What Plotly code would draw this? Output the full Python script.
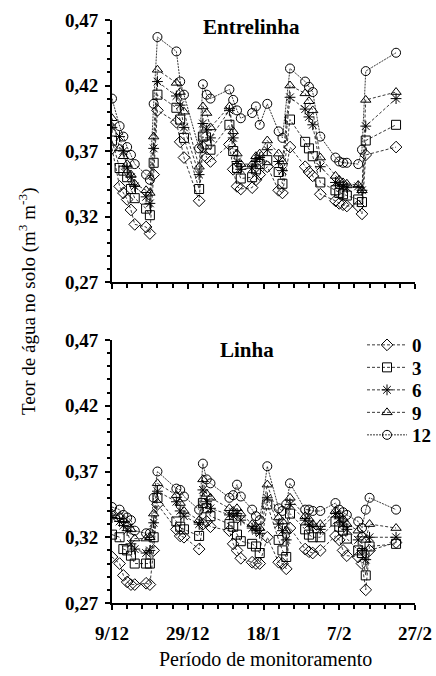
import plotly.graph_objects as go

SERIES = ["0", "3", "6", "9", "12"]
SYMBOLS = ["diamond-open", "square-open", "asterisk-open", "triangle-up-open", "circle-open"]
DASHES = ["3px,2px", "3px,2px", "3px,2px", "3px,2px", "2px,1px"]

TICK_DAYS = [0, 20, 40, 60, 80]
TICK_LABELS = ["9/12", "29/12", "18/1", "7/2", "27/2"]

# Entrelinha (top panel) -- days since 9/12
TOP_DAYS = [0, 2, 3, 4, 5, 6, 9, 10, 11, 12, 17, 18, 19, 23, 24, 25, 26, 31, 32, 33,
            34, 37, 38, 39, 41, 44, 45, 47, 51, 52, 53, 55, 59, 60, 61, 62, 65, 66, 67, 75]
TOP_0 = [.372, .343, .338, .333, .325, .314, .312, .307, .352, .401, .392, .377, .365, .332, .373, .365, .362, .375, .356, .343,
         .341, .342, .348, .352, .358, .340, .338, .373, .358, .354, .351, .337, .332, .330, .329, .328, .328, .322, .367, .373]
TOP_3 = [.378, .357, .355, .350, .341, .334, .326, .321, .361, .413, .403, .394, .380, .341, .381, .375, .371, .390, .370, .357,
         .349, .350, .356, .360, .363, .354, .345, .394, .377, .372, .366, .346, .340, .338, .337, .336, .333, .331, .378, .390]
TOP_6 = [.388, .381, .370, .357, .350, .343, .335, .330, .372, .423, .412, .405, .388, .352, .391, .386, .380, .401, .380, .362,
         .356, .357, .362, .365, .371, .362, .355, .411, .402, .396, .390, .358, .346, .344, .343, .342, .343, .340, .389, .410]
TOP_9 = [.395, .372, .366, .360, .352, .345, .340, .338, .381, .432, .422, .415, .400, .358, .404, .399, .388, .404, .385, .368,
         .360, .360, .366, .368, .378, .368, .362, .420, .414, .408, .401, .365, .351, .348, .346, .345, .344, .340, .409, .415]
TOP_12 = [.410, .389, .381, .373, .367, .360, .352, .348, .406, .457, .446, .423, .413, .372, .421, .413, .410, .417, .409, .401,
          .395, .399, .404, .390, .406, .385, .380, .433, .423, .419, .415, .381, .365, .362, .361, .361, .360, .371, .431, .445]

# Linha (bottom panel)
BOT_DAYS = [0, 2, 3, 4, 5, 6, 9, 10, 11, 12, 17, 18, 19, 23, 24, 25, 26, 31, 32, 33, 34,
            37, 38, 39, 41, 44, 45, 46, 47, 51, 52, 53, 55, 59, 60, 61, 62, 65, 66, 67, 68, 75]
BOT_0 = [.305, .300, .291, .286, .284, .284, .285, .284, .310, .345, .326, .321, .320, .311, .330, .332, .328, .325, .315, .310, .304,
         .301, .300, .300, .320, .301, .300, .296, .327, .311, .309, .308, .310, .321, .318, .310, .306, .305, .300, .280, .310, .316]
BOT_3 = [.322, .320, .311, .310, .306, .300, .300, .300, .320, .350, .332, .328, .326, .321, .346, .342, .336, .330, .328, .322, .317,
         .315, .313, .308, .345, .318, .310, .305, .338, .326, .322, .320, .320, .332, .328, .325, .319, .310, .308, .291, .313, .315]
BOT_6 = [.335, .332, .329, .325, .315, .311, .308, .310, .331, .355, .347, .340, .336, .330, .356, .347, .342, .337, .336, .338, .333,
         .327, .325, .323, .350, .330, .325, .318, .345, .333, .330, .328, .326, .338, .334, .330, .326, .318, .310, .303, .320, .320]
BOT_9 = [.338, .336, .333, .330, .326, .319, .319, .320, .338, .361, .352, .346, .340, .333, .364, .353, .350, .342, .340, .342, .338,
         .330, .328, .327, .360, .335, .332, .325, .350, .336, .334, .330, .330, .340, .337, .334, .330, .325, .322, .318, .330, .327]
BOT_12 = [.343, .341, .337, .335, .333, .325, .323, .323, .350, .370, .357, .356, .351, .341, .376, .364, .361, .350, .352, .360, .351,
          .341, .336, .333, .374, .342, .340, .345, .361, .341, .341, .340, .340, .346, .341, .339, .337, .332, .327, .341, .350, .341]

TOP = [TOP_0, TOP_3, TOP_6, TOP_9, TOP_12]
BOT = [BOT_0, BOT_3, BOT_6, BOT_9, BOT_12]

FONT = "Liberation Serif"

W, H = 436, 676
L, R, T, B = 112, 21, 20, 73
PW, PH = W - L - R, H - T - B


def px(ref_x):
    return (ref_x - L) / PW


def py(ref_y):
    return (H - B - ref_y) / PH


fig = go.Figure()
legend_names = ["legend", "legend2", "legend3", "legend4", "legend5"]

for i, name in enumerate(SERIES):
    common = dict(
        mode="lines+markers",
        name=name,
        line=dict(color="#222222", width=0.9, dash=DASHES[i]),
        marker=dict(symbol=SYMBOLS[i], size=9, color="black", line=dict(width=1, color="black")),
    )
    fig.add_trace(go.Scatter(x=TOP_DAYS, y=TOP[i], xaxis="x", yaxis="y", showlegend=False, **common))
    fig.add_trace(go.Scatter(x=BOT_DAYS, y=BOT[i], xaxis="x2", yaxis="y2", showlegend=True,
                             legend=legend_names[i], **common))

TICKFONT = dict(family=FONT, size=19, color="black", weight="bold")

xcommon = dict(
    range=[0, 80], showgrid=False, zeroline=False, showline=True, linecolor="black", linewidth=2,
    ticks="outside", ticklen=5, tickwidth=1.5, tickcolor="black",
    tickvals=TICK_DAYS, ticktext=TICK_LABELS,
    minor=dict(dtick=4, tick0=0, ticks="outside", ticklen=4, tickwidth=1.5, tickcolor="black"),
    tickfont=TICKFONT,
)
ycommon = dict(
    range=[0.27, 0.47], showgrid=False, zeroline=False, showline=True, linecolor="black", linewidth=2,
    ticks="outside", ticklen=5, tickwidth=1.5, tickcolor="black",
    tick0=0.27, dtick=0.05, tickformat=".2f",
    minor=dict(dtick=0.01, ticks="outside", ticklen=3, tickwidth=1.5, tickcolor="black"),
    tickfont=TICKFONT,
    ticklabelstandoff=3,
)

legend_layout = {}
for i, ln in enumerate(legend_names):
    legend_layout[ln] = dict(
        x=px(362), y=py(345 + 22.5 * i), xanchor="left", yanchor="middle",
        font=dict(family=FONT, size=19, color="black", weight="bold"),
        bgcolor="rgba(0,0,0,0)", borderwidth=0, itemwidth=40,
    )

fig.update_layout(
    width=W, height=H,
    margin=dict(l=L, r=R, t=T, b=B, autoexpand=False),
    paper_bgcolor="white", plot_bgcolor="white",
    separators=",.",
    font=dict(family=FONT, color="black"),
    xaxis=dict(domain=[0, 1], anchor="y", showticklabels=False, **xcommon),
    yaxis=dict(domain=[py(282), 1], anchor="x", **ycommon),
    xaxis2=dict(domain=[0, 1], anchor="y2", ticklabelstandoff=7, **xcommon),
    yaxis2=dict(domain=[0, py(340)], anchor="x2", **ycommon),
    annotations=[
        dict(text="<b>Entrelinha</b>", x=px(251), y=py(27), xref="paper", yref="paper",
             xanchor="center", yanchor="middle",
             showarrow=False, font=dict(family=FONT, size=21, color="black")),
        dict(text="<b>Linha</b>", x=px(247), y=py(350), xref="paper", yref="paper",
             xanchor="center", yanchor="middle",
             showarrow=False, font=dict(family=FONT, size=21, color="black")),
        dict(text="Teor de água no solo (m<sup>3</sup> m<sup>-3</sup>)", x=px(27), y=py(302),
             xref="paper", yref="paper", textangle=-90, showarrow=False,
             xanchor="center", yanchor="middle",
             font=dict(family=FONT, size=19, color="black")),
        dict(text="Período de monitoramento", x=px(265), y=py(659), xref="paper", yref="paper",
             xanchor="center", yanchor="middle",
             showarrow=False, font=dict(family=FONT, size=20, color="black")),
    ],
    **legend_layout,
)

# remove the default 8px page margin so the figure fills the window exactly
fig.write_html("out.html", config={"displayModeBar": False},
               post_script="document.body.style.margin='0';")
